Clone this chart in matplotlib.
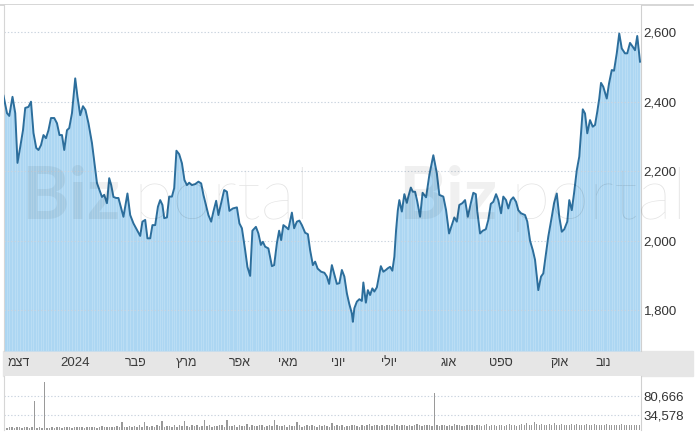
import numpy as np
import matplotlib.pyplot as plt
from matplotlib.patches import Rectangle
from matplotlib.lines import Line2D

# --------------------
# Data (trading days since start, close price)

day = [0.1, 1.5, 2.4, 3.7, 4.8, 5.7, 6.8, 7.9, 8.8, 10.1, 11.1, 12.1, 13.2, 14.1, 15.1, 16.1, 17.1, 18.1, 19.1, 20.4,
       21.5, 22.5, 23.5, 24.4, 25.5, 26.4, 27.5, 28.8, 29.7, 30.8, 31.9, 32.9, 34.1, 35.5, 36.5, 37.5, 38.5, 39.5, 40.4,
       41.5, 42.4, 43.2, 44.1, 45.2, 46.1, 47.2, 48.1, 49.1, 49.7, 50.8, 52.1, 53.5, 54.8, 55.7, 56.8, 57.7, 58.8, 59.7,
       60.8, 61.9, 62.8, 63.7, 64.4, 65.5, 66.4, 67.5, 68.4, 69.3, 70.4, 71.5, 72.5, 73.5, 74.4, 75.5, 76.8, 78.1, 79.2,
       80.1, 81.1, 82.1, 83.2, 84.1, 85.2, 86.1, 87.2, 88.4, 89.5, 90.5, 91.9, 93.5, 94.5, 95.5, 96.8, 97.7, 98.8, 99.7,
       101.1, 102.1, 103.1, 103.9, 104.8, 106.1, 107.5, 108.4, 109.5, 110.4, 111.2, 112.1, 113.2, 114.1, 115.5, 116.4,
       117.5, 118.5, 119.5, 120.8, 121.9, 122.8, 123.9, 124.8, 125.8, 127.2, 128.5, 129.5, 130.4, 131.5, 132.4, 133.5,
       134.5, 135.5, 136.5, 137.5, 138.4, 139.5, 139.9, 140.5, 141.5, 142.5, 143.5, 144.1, 145.1, 145.9, 146.8, 147.7,
       148.5, 149.5, 150.1, 151.1, 152.1, 153.1, 153.9, 154.8, 155.7, 156.5, 157.2, 157.9, 158.5, 159.5, 160.5, 161.5,
       162.1, 163.1, 163.9, 164.8, 165.7, 166.8, 167.8, 169.2, 170.5, 172.1, 173.5, 174.5, 176.1, 177.2, 178.4, 179.5,
       180.5, 181.5, 182.5, 183.7, 184.8, 185.9, 187.1, 188.1, 189.1, 189.7, 190.8, 191.9, 193.1, 194.1, 195.1, 196.1,
       197.2, 198.1, 199.2, 200.1, 201.2, 202.1, 203.1, 204.1, 205.2, 206.1, 207.2, 208.8, 209.7, 210.8, 211.9, 212.8,
       214.1, 215.2, 216.1, 217.2, 218.1, 219.5, 220.4, 221.5, 222.5, 223.5, 224.5, 225.7, 226.5, 227.5, 228.4, 229.5,
       230.5, 231.2, 231.9, 232.8, 233.7, 234.8, 235.9, 236.8, 237.7, 238.5, 239.2, 240.1, 241.5, 242.4, 243.5, 244.4,
       245.5, 246.5, 247.5, 248.8, 249.7, 250.8, 251.9, 252.8, 253.7, 254.8]

close = [2417, 2367, 2359, 2414, 2367, 2224, 2270, 2318, 2382, 2385, 2400, 2310, 2267, 2261, 2275, 2304, 2295, 2318,
         2353, 2353, 2338, 2304, 2304, 2261, 2318, 2324, 2367, 2467, 2414, 2361, 2387, 2376, 2338, 2281, 2223, 2166,
         2146, 2126, 2132, 2108, 2180, 2160, 2126, 2123, 2123, 2093, 2069, 2112, 2136, 2074, 2050, 2031, 2014, 2055,
         2060, 2007, 2007, 2045, 2045, 2098, 2117, 2103, 2065, 2067, 2127, 2127, 2151, 2259, 2249, 2223, 2175, 2160,
         2167, 2160, 2163, 2170, 2165, 2132, 2103, 2074, 2055, 2084, 2115, 2074, 2108, 2146, 2141, 2086, 2093, 2096,
         2050, 2036, 1973, 1925, 1899, 2029, 2040, 2021, 1988, 1997, 1983, 1978, 1927, 1930, 1993, 2029, 2002, 2045,
         2039, 2033, 2081, 2036, 2055, 2058, 2045, 2023, 2019, 1973, 1930, 1940, 1920, 1911, 1908, 1897, 1876, 1930,
         1906, 1876, 1878, 1916, 1897, 1849, 1820, 1791, 1767, 1806, 1825, 1832, 1827, 1880, 1822, 1858, 1844, 1863,
         1854, 1866, 1889, 1927, 1911, 1916, 1921, 1925, 1914, 1954, 2031, 2088, 2117, 2084, 2134, 2109, 2127, 2153,
         2141, 2141, 2112, 2069, 2138, 2125, 2189, 2246, 2194, 2132, 2127, 2088, 2021, 2045, 2067, 2055, 2103, 2108,
         2117, 2069, 2108, 2138, 2134, 2084, 2021, 2029, 2033, 2060, 2106, 2112, 2134, 2117, 2079, 2127, 2117, 2093,
         2117, 2125, 2112, 2088, 2079, 2074, 2055, 2000, 1973, 1945, 1858, 1897, 1906, 1964, 2012, 2069, 2108, 2136,
         2069, 2026, 2033, 2055, 2117, 2088, 2136, 2203, 2242, 2309, 2378, 2366, 2309, 2347, 2328, 2333, 2371, 2409,
         2454, 2443, 2409, 2452, 2491, 2489, 2539, 2596, 2553, 2539, 2539, 2569, 2558, 2548, 2589, 2515]

# Daily volume, thousands of shares (one bar per trading day)
volume_k = [6, 5, 7, 6, 5, 6, 7, 5, 6, 6, 5, 6, 70, 5, 6, 4, 114,
            4, 5, 6, 5, 7, 6, 5, 8, 6, 7, 5, 6, 8, 7, 6, 5, 7, 6, 8, 6, 5, 7, 9, 6, 7, 8, 6, 7,
            9, 7, 20, 8, 6, 10, 7, 9, 8, 11, 7, 18, 9, 8, 10, 7, 12, 9, 21, 8, 10, 9, 7, 11, 8, 13, 9, 22, 10, 8,
            12, 9, 11, 7, 10, 24, 9, 12, 8, 10, 9, 13, 11, 8, 24, 10, 9, 12, 8, 11, 10, 9, 14, 8, 12, 10, 9, 11,
            13, 8, 10, 12, 9, 24, 11, 10,
            9, 11, 8, 12, 10, 9, 18, 11, 8, 10, 12, 9, 13, 10, 8, 11, 9, 12, 10, 8, 16, 9, 11, 10, 12, 8, 10, 9,
            13, 11, 10, 8, 12, 9, 11, 14, 10, 12, 11, 9, 13, 10, 12, 11, 9, 14, 12, 10, 11, 13, 9, 12, 10, 11, 14,
            12, 10, 13, 11, 12, 10, 88,
            12, 10, 13, 11, 9, 12, 10, 14, 11, 12, 10, 9, 13, 11, 12, 10, 11, 13, 9, 12, 14, 10, 11, 12, 9, 13, 11,
            10, 12, 15, 11, 13, 10, 12, 14, 11, 16, 12, 13, 18, 14, 12, 15, 13, 11, 14, 12, 16, 13, 12, 14, 11, 13,
            12, 15, 12, 14, 11, 13, 12, 15, 13, 11, 14, 12, 13, 11, 12, 14, 13, 12, 11, 13, 12, 14, 11, 12, 13, 12,
            11, 12, 13]

# Month labels (Hebrew) and where they sit on the day axis
months = ["דצמ", "2024", "פבר", "מרץ", "אפר", "מאי", "יוני", "יולי", "אוג", "ספט", "אוק", "נוב"]
month_day = [6.4, 28.8, 53.0, 73.6, 94.8, 114.0, 134.0, 154.4, 178.4, 199.2, 222.4, 240.0]

price_ticks = [1800, 2000, 2200, 2400, 2600]
volume_ticks = [34578, 80666]

# --------------------

W, H = 697, 437
FONT = ["Liberation Sans", "DejaVu Sans"]
plt.rcParams["font.family"] = FONT

fig = plt.figure(figsize=(W / 100, H / 100), dpi=100)

def px_box(x0, y0, x1, y1):
    return [x0 / W, 1 - y1 / H, (x1 - x0) / W, (y1 - y0) / H]

# date band + top border (behind the axes)
fig.patches.append(Rectangle((3 / W, 1 - 376 / H), 690 / W, 25 / H, transform=fig.transFigure,
                             color="#e6e6e6", zorder=-5))
fig.lines.append(Line2D([0, 693 / W], [1 - 5 / H, 1 - 5 / H], transform=fig.transFigure,
                        color="#cfcfcf", lw=1.2, zorder=-5))

ax = fig.add_axes(px_box(4, 5, 641, 351))
axv = fig.add_axes(px_box(4, 376, 641, 430))

x_lo, x_hi = 0.3, 255.2
y_lo, y_hi = 1683, 2678

# Price
ax.fill_between(day, close, y_lo, color="#acd6f2", lw=0, zorder=1)
ax.vlines(day, y_lo, close, color="white", lw=0.5, alpha=0.25, zorder=1.5)
ax.plot(day, close, color="#2c6e9c", lw=1.4, zorder=3, solid_joinstyle="round")
ax.set_xlim(x_lo, x_hi)
ax.set_ylim(y_lo, y_hi)
ax.set_yticks(price_ticks)
ax.set_yticklabels([f"{v:,}" for v in price_ticks])
ax.yaxis.tick_right()
ax.tick_params(axis="y", length=0, pad=2, labelsize=9.5, labelcolor="#333333")
ax.set_xticks([])
ax.grid(axis="y", color="#c9d3de", lw=0.8, linestyle=(0, (1.2, 1.8)), zorder=2)
for s in ["top", "bottom"]:
    ax.spines[s].set_visible(False)
ax.spines["left"].set_color("#d6d6d6")
ax.spines["right"].set_color("#d0d0d0")

# month labels in the grey band (matplotlib draws left-to-right, so flip the Hebrew)
for lab, d in zip(months, month_day):
    txt = lab if lab.isdigit() else lab[::-1]
    ax.text(d, -0.035, txt, transform=ax.get_xaxis_transform(), ha="center", va="center",
            fontsize=9.5 if lab.isdigit() else 9, color="#3a3a3a", clip_on=False)

# Volume
vol = np.array(volume_k) * 1000
axv.bar(np.arange(len(vol)) + 0.5, vol, width=0.55, color="#9a9a9a", lw=0)
axv.set_xlim(x_lo, x_hi)
axv.set_ylim(0, 128300)
axv.set_yticks(volume_ticks)
axv.set_yticklabels([f"{v:,}" for v in volume_ticks])
axv.yaxis.tick_right()
axv.tick_params(axis="y", length=0, pad=2, labelsize=9.5, labelcolor="#333333")
axv.set_xticks([])
axv.grid(axis="y", color="#c9d3de", lw=0.8, linestyle=(0, (1.2, 1.8)))
axv.set_axisbelow(True)
for s in ["top", "bottom"]:
    axv.spines[s].set_visible(False)
axv.spines["left"].set_color("#d6d6d6")
axv.spines["right"].set_color("#d0d0d0")

# watermark
for x0 in [21, 398]:
    fig.text(x0 / W, 1 - 219 / H, "Biz", fontsize=52, fontweight="bold", family=["Lato", "DejaVu Sans"],
             color="black", alpha=0.06, zorder=10)
    fig.text((x0 + 112) / W, 1 - 219 / H, "portal", fontsize=52, fontweight="light",
             family=["Lato", "DejaVu Sans"], color="black", alpha=0.11, zorder=10)

fig.savefig("out.png", dpi=100)
